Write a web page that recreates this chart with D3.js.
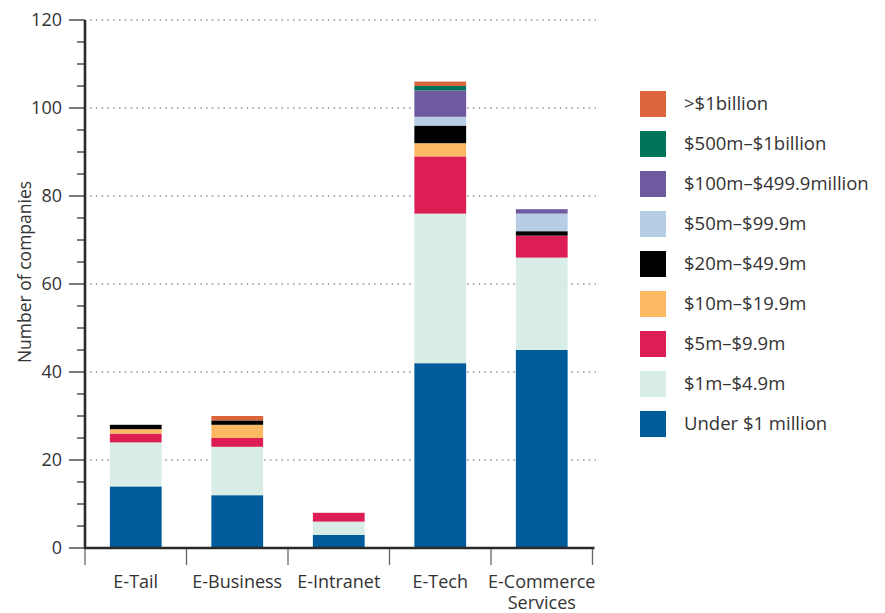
<!DOCTYPE html>
<html>
<head>
<meta charset="utf-8">
<script src="https://cdn.jsdelivr.net/npm/d3@7"></script>
<style>
  body { margin: 0; background: #fff; }
  svg text { font-family: "Open Sans", "Liberation Sans", sans-serif; fill: #333; }
</style>
</head>
<body>
<svg id="chart" width="885" height="613"></svg>
<script>
// Companies by revenue band, per sector
const categories = ["E-Tail", "E-Business", "E-Intranet", "E-Tech", "E-Commerce Services"];
const bands = [
  "Under $1 million", "$1m–$4.9m", "$5m–$9.9m", "$10m–$19.9m", "$20m–$49.9m",
  "$50m–$99.9m", "$100m–$499.9million", "$500m–$1billion", ">$1billion"
];
const bandColors = [
  "#005b9a", "#d8ede6", "#dc1e55", "#fdb863", "#000000",
  "#b7cde6", "#6e5a9e", "#00735b", "#dd653b"
];
// counts[band][category]
const under1m   = [14, 12, 3, 42, 45];
const m1to5     = [10, 11, 3, 34, 21];
const m5to10    = [2, 2, 2, 13, 5];
const m10to20   = [1, 3, 0, 3, 0];
const m20to50   = [1, 1, 0, 4, 1];
const m50to100  = [0, 0, 0, 2, 4];
const m100to500 = [0, 0, 0, 6, 1];
const m500to1b  = [0, 0, 0, 1, 0];
const over1b    = [0, 1, 0, 1, 0];
const series = [under1m, m1to5, m5to10, m10to20, m20to50, m50to100, m100to500, m500to1b, over1b];
const yTicks = [0, 20, 40, 60, 80, 100, 120];
const yTitle = "Number of companies";

const rows = categories.map((c, i) => {
  const r = { category: c };
  bands.forEach((b, j) => { r[b] = series[j][i]; });
  return r;
});

const svg = d3.select("#chart");
const x0 = 85, x1 = 592.5, yTop = 20, yBase = 548;

const x = d3.scaleBand().domain(categories).range([x0, x1])
  .paddingInner(0.49).paddingOuter(0.245);
const y = d3.scaleLinear().domain([0, 120]).range([yBase, yTop]);

// dotted gridlines
svg.append("g").selectAll("line").data(yTicks.filter(d => d > 0)).join("line")
  .attr("x1", x0 + 5).attr("x2", 596)
  .attr("y1", d => y(d)).attr("y2", d => y(d))
  .attr("stroke", "#9a9a9a").attr("stroke-width", 1.6)
  .attr("stroke-dasharray", "1.6,4.2");

// stacked bars
const stack = d3.stack().keys(bands)(rows);
svg.append("g").selectAll("g").data(stack).join("g")
  .attr("fill", (d, i) => bandColors[i])
  .selectAll("rect").data(d => d).join("rect")
  .attr("x", d => x(d.data.category))
  .attr("width", x.bandwidth())
  .attr("y", d => y(d[1]))
  .attr("height", d => y(d[0]) - y(d[1]));

// y axis: major and minor ticks
const yAxis = svg.append("g");
yAxis.selectAll("line.minor").data(d3.range(0, 121, 5)).join("line")
  .attr("class", "minor")
  .attr("x1", d => d % 20 === 0 ? x0 - 16 : x0 - 8).attr("x2", x0)
  .attr("y1", d => y(d)).attr("y2", d => y(d))
  .attr("stroke", "#333").attr("stroke-width", 1.3);
yAxis.selectAll("text").data(yTicks).join("text")
  .attr("x", x0 - 23).attr("y", d => y(d)).attr("dy", "0.35em")
  .attr("text-anchor", "end").attr("font-size", 18)
  .text(d => d);
yAxis.append("line")
  .attr("x1", x0).attr("x2", x0).attr("y1", yTop).attr("y2", yBase)
  .attr("stroke", "#2a2a2a").attr("stroke-width", 2.6);

svg.append("text")
  .attr("transform", "translate(31,272) rotate(-90)")
  .attr("text-anchor", "middle").attr("font-size", 17.5)
  .text(yTitle);

// x axis with category boundary ticks
const xAxis = svg.append("g");
xAxis.selectAll("line").data(d3.range(categories.length + 1)).join("line")
  .attr("x1", i => x0 + i * x.step()).attr("x2", i => x0 + i * x.step())
  .attr("y1", yBase).attr("y2", yBase + 17)
  .attr("stroke", "#666").attr("stroke-width", 1.3);
xAxis.append("line")
  .attr("x1", x0 - 1).attr("x2", x1 + 2).attr("y1", yBase).attr("y2", yBase)
  .attr("stroke", "#2a2a2a").attr("stroke-width", 2.6);
xAxis.selectAll("text").data(categories).join("text")
  .attr("x", d => x(d) + x.bandwidth() / 2)
  .attr("y", 588)
  .attr("text-anchor", "middle").attr("font-size", 18)
  .each(function(d) {
    const words = d === "E-Commerce Services" ? ["E-Commerce", "Services"] : [d];
    d3.select(this).selectAll("tspan").data(words).join("tspan")
      .attr("x", x(d) + x.bandwidth() / 2)
      .attr("dy", (w, i) => i === 0 ? 0 : 21)
      .text(w => w);
  });

// legend, top band first
const legend = svg.append("g");
const order = d3.range(bands.length).reverse();
const item = legend.selectAll("g").data(order).join("g")
  .attr("transform", (d, i) => `translate(640,${91 + i * 40})`);
item.append("rect").attr("width", 26).attr("height", 26)
  .attr("fill", d => bandColors[d]);
item.append("text").attr("x", 44).attr("y", 13).attr("dy", "0.35em")
  .attr("font-size", 18.5).text(d => bands[d]);
</script>
</body>
</html>
